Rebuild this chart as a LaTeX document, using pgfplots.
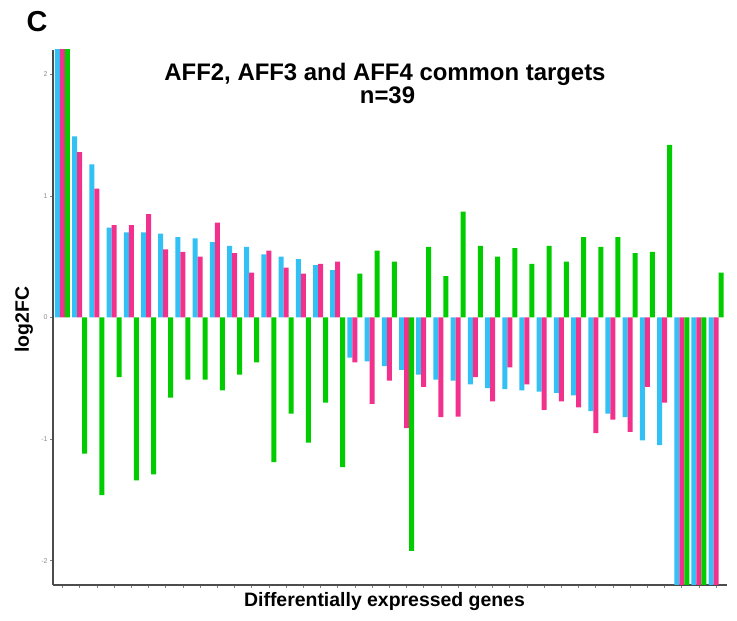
\documentclass[border=0pt]{standalone}
\usepackage{fontspec}
\setmainfont{Liberation Sans}
\usepackage{pgfplots}
\usepackage{pgfplotstable}
\pgfplotsset{compat=1.18}

\definecolor{affcyan}{RGB}{51,192,245}
\definecolor{affpink}{RGB}{242,49,140}
\definecolor{affgreen}{RGB}{0,204,0}

% log2 fold change of the 39 common targets (AFF2, AFF3, AFF4)
\pgfplotstableread{
gene aff2  aff3   aff4
1    2.5   2.5    2.5
2    1.49  1.36  -1.12
3    1.26  1.06  -1.46
4    0.74  0.76  -0.49
5    0.70  0.76  -1.34
6    0.70  0.85  -1.29
7    0.69  0.56  -0.66
8    0.66  0.54  -0.51
9    0.65  0.50  -0.51
10   0.62  0.78  -0.60
11   0.59  0.53  -0.47
12   0.58  0.37  -0.37
13   0.52  0.55  -1.19
14   0.50  0.41  -0.79
15   0.48  0.36  -1.03
16   0.43  0.44  -0.70
17   0.39  0.46  -1.23
18  -0.33 -0.37   0.36
19  -0.36 -0.71   0.55
20  -0.40 -0.52   0.46
21  -0.43 -0.91  -1.92
22  -0.47 -0.57   0.58
23  -0.51 -0.82   0.34
24  -0.52 -0.815  0.87
25  -0.55 -0.49   0.59
26  -0.58 -0.69   0.50
27  -0.59 -0.41   0.57
28  -0.60 -0.55   0.44
29  -0.61 -0.76   0.59
30  -0.62 -0.69   0.46
31  -0.64 -0.74   0.66
32  -0.77 -0.95   0.58
33  -0.79 -0.84   0.66
34  -0.82 -0.94   0.53
35  -1.01 -0.57   0.54
36  -1.05 -0.70   1.42
37  -2.5  -2.5   -2.5
38  -2.5  -2.5   -2.5
39  -2.5  -2.5    0.37
}\lfcdata

\begin{document}
\begin{tikzpicture}[x=1bp,y=1bp]
\begin{axis}[
  name=ax,
  scale only axis, width=674bp, height=535bp,
  xmin=0.448, xmax=39.63, ymin=-2.2, ymax=2.2,
  axis lines*=left,
  axis line style={-, black!70, line width=1.2bp},
  ybar, bar width=5bp,
  xtick={1,...,39}, xticklabels={},
  ytick={-2,-1,0,1,2}, yticklabels={-2,-1,0,1,2},
  tick align=outside, major tick length=3bp,
  tick style={black!50, line width=0.6bp},
  yticklabel style={font=\fontsize{7}{7}\selectfont, text=black!45, xshift=1bp},
]
\addplot[fill=affcyan, draw=none, bar shift=-5bp] table[x=gene, y=aff2] {\lfcdata};
\addplot[fill=affpink, draw=none, bar shift=0bp] table[x=gene, y=aff3] {\lfcdata};
\addplot[fill=affgreen, draw=none, bar shift=5bp] table[x=gene, y=aff4] {\lfcdata};
\end{axis}

% page frame measured from the lower left corner of the plot box
\pgfresetboundingbox
\path[use as bounding box] ([shift={(-53,-36)}]ax.south west) rectangle ([shift={(684,585)}]ax.south west);

% panel letter, title and axis labels
\node[anchor=base west, inner sep=0, font=\fontsize{29}{29}\selectfont\bfseries] at ([shift={(-26.5,553.3)}]ax.south west) {C};
\node[anchor=base, inner sep=0, font=\fontsize{24}{24}\selectfont\bfseries] at ([shift={(332,504.5)}]ax.south west) {AFF2, AFF3 and AFF4 common targets};
\node[anchor=base, inner sep=0, font=\fontsize{24}{24}\selectfont\bfseries] at ([shift={(334.5,481.5)}]ax.south west) {n=39};
\node[rotate=90, inner sep=0, font=\fontsize{19.5}{19.5}\selectfont\bfseries] at ([shift={(-29,265.5)}]ax.south west) {log2FC};
\node[anchor=base, inner sep=0, font=\fontsize{19.5}{19.5}\selectfont\bfseries] at ([shift={(331.5,-22)}]ax.south west) {Differentially expressed genes};
\end{tikzpicture}
\end{document}
